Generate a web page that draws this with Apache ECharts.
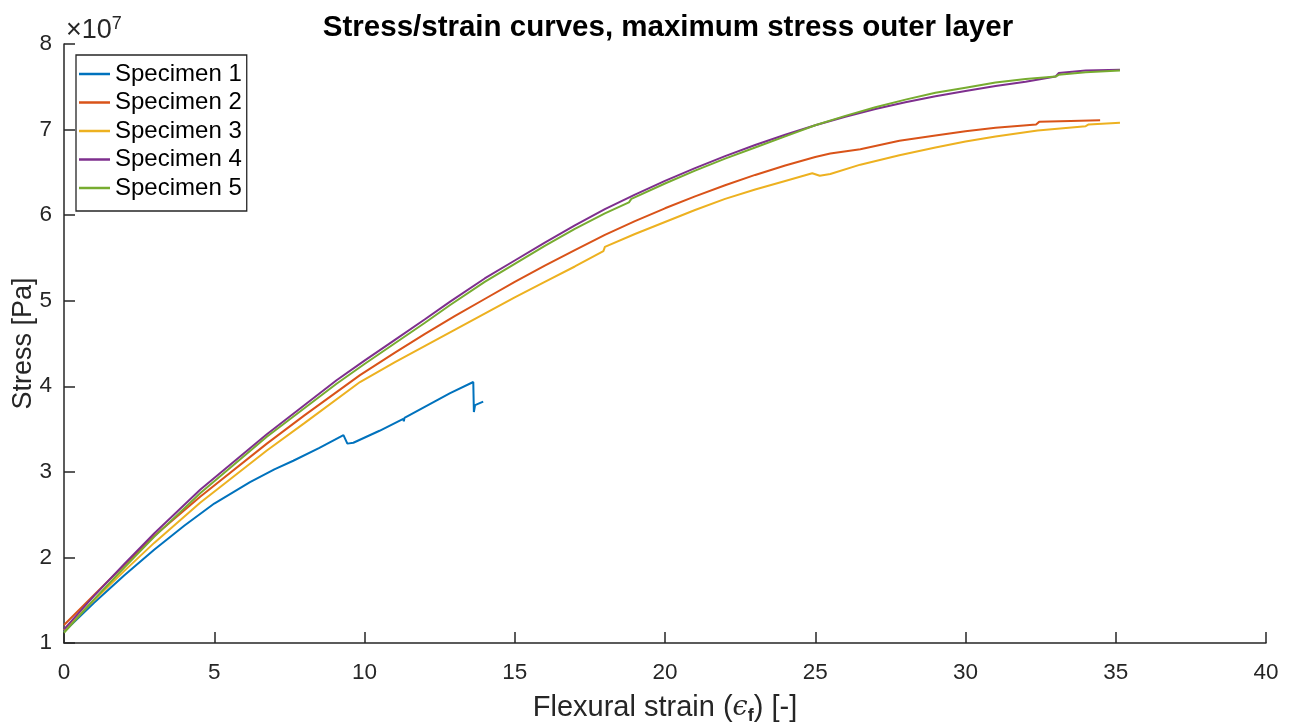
<!DOCTYPE html>
<html>
<head>
<meta charset="utf-8">
<script src="https://cdn.jsdelivr.net/npm/echarts@6/dist/echarts.min.js"></script>
<style>html,body{margin:0;padding:0;background:#fff;}#c{width:1291px;height:725px;}</style>
</head>
<body>
<div id="c"></div>
<script>
// strain values (x) and stress values (y, in units of 1e7 Pa)
const names = ['Specimen 1','Specimen 2','Specimen 3','Specimen 4','Specimen 5'];
const colors = ['#0072BD','#D95319','#EDB120','#7E2F8E','#77AC30'];
const xTicks = [0,5,10,15,20,25,30,35,40];
const yTicks = [1,2,3,4,5,6,7,8];

const s1x = [0,1,2,3,4,5,6.19,7.0,7.63,8.5,9.30,9.36,9.43,9.63,10.5,11.29,11.31,11.33,12.85,13.62,13.64,13.68,13.95];
const s1y = [1.13,1.47,1.79,2.09,2.37,2.63,2.88,3.03,3.13,3.28,3.43,3.42,3.33,3.34,3.48,3.62,3.59,3.63,3.92,4.05,3.70,3.78,3.82];

const s2x = [0,1,2,3,4.53,6.75,8,9.85,11,12,13,14,15,16,17,18,19,20,21,22,23,24,25,25.5,26.5,27.8,29,30,31,32.35,32.45,33.5,34.48];
const s2y = [1.21,1.56,1.91,2.25,2.71,3.33,3.66,4.13,4.39,4.61,4.82,5.02,5.22,5.41,5.59,5.77,5.93,6.08,6.22,6.35,6.47,6.58,6.68,6.72,6.77,6.87,6.93,6.98,7.02,7.06,7.09,7.10,7.11];

const s3x = [0,1,2,3,4.53,6.75,8,9.85,11,12,13,14,15,16,17,17.95,18.0,19,20,21,22,23,24,24.9,25.15,25.5,26.5,27.8,29,30,31,32.4,34.0,34.1,35.14];
const s3y = [1.15,1.50,1.84,2.17,2.64,3.25,3.57,4.05,4.28,4.47,4.66,4.85,5.04,5.22,5.40,5.58,5.63,5.78,5.92,6.06,6.19,6.30,6.40,6.49,6.46,6.48,6.59,6.70,6.79,6.86,6.92,6.99,7.04,7.06,7.08];

const s4x = [0,1,2,3,4.53,6.75,9.07,10,11,12,12.85,14,15,16,17,18,19,20,21,22,23,24,25,26,27,28,29,30,31,32,33,33.1,34,35.14];
const s4y = [1.16,1.55,1.92,2.28,2.79,3.44,4.07,4.30,4.54,4.78,4.99,5.26,5.47,5.68,5.88,6.07,6.24,6.40,6.55,6.69,6.82,6.94,7.05,7.15,7.24,7.32,7.39,7.45,7.51,7.56,7.62,7.66,7.69,7.70];

const s5x = [0,1,2,3,4.53,6.75,9.07,10,11,12,12.85,14,15,16,17,18,18.8,18.88,20,21,22,23,24,25,26,27,28,29,30,31,32,33,33.1,34,35.14];
const s5y = [1.12,1.51,1.88,2.24,2.75,3.41,4.03,4.26,4.50,4.74,4.95,5.22,5.43,5.64,5.84,6.02,6.15,6.19,6.37,6.52,6.66,6.79,6.92,7.05,7.16,7.26,7.35,7.43,7.49,7.55,7.59,7.62,7.64,7.67,7.69];

const xs = [s1x,s2x,s3x,s4x,s5x];
const ys = [s1y,s2y,s3y,s4y,s5y];

const axisColor = '#262626';
const FONT = 'Liberation Sans, Arial, sans-serif';
const chart = echarts.init(document.getElementById('c'));
chart.setOption({
  animation: false,
  backgroundColor: '#fff',
  title: {
    text: 'Stress/strain curves, maximum stress outer layer',
    left: 663, top: 8, textAlign: 'center',
    textStyle: {fontFamily: FONT, fontSize: 29.5, fontWeight: 'bold', color: '#000'}
  },
  graphic: [{
    type: 'text', left: 66, top: 15,
    style: {
      text: '×10{s|7}',
      rich: {s: {fontSize: 18, verticalAlign: 'top', padding: [0,0,13,0], fontFamily: FONT, fill: axisColor}},
      fontSize: 27, fontFamily: FONT, fill: axisColor
    }
  }],
  legend: {
    orient: 'vertical', left: 76, top: 55,
    data: names,
    icon: 'rect', itemWidth: 31, itemHeight: 2.5, itemGap: 0.5,
    padding: [5, 5, 9, 3],
    borderColor: axisColor, borderWidth: 1.3, backgroundColor: '#fff',
    textStyle: {fontFamily: FONT, fontSize: 24, color: '#000', lineHeight: 28}
  },
  grid: {left: 64, right: 25, top: 44, bottom: 82, containLabel: false, outerBoundsMode: 'none'},
  xAxis: {
    type: 'value', min: 0, max: 40, interval: 5,
    name: 'Flexural strain ({e|ϵ}{sub|f}) [-]',
    nameLocation: 'middle', nameGap: 47, nameMoveOverlap: false,
    nameTextStyle: {fontFamily: FONT, fontSize: 29, color: axisColor,
      rich: {e: {fontSize: 27, fontFamily: 'DejaVu Serif, serif', fontStyle: 'italic', color: axisColor},
             sub: {fontSize: 18, fontWeight: 'bold', verticalAlign: 'bottom', padding: [17,0,0,0], color: axisColor}}},
    axisLine: {show: true, lineStyle: {color: axisColor, width: 1.5}},
    axisTick: {show: true, inside: true, length: 11, lineStyle: {color: axisColor, width: 1.5}},
    axisLabel: {fontFamily: FONT, fontSize: 22.5, color: axisColor, margin: 18,
      formatter: v => xTicks.includes(v) ? String(v) : ''},
    splitLine: {show: false}
  },
  yAxis: {
    type: 'value', min: 1, max: 8, interval: 1,
    name: 'Stress [Pa]', nameLocation: 'middle', nameGap: 27, nameMoveOverlap: false,
    nameTextStyle: {fontFamily: FONT, fontSize: 27, color: axisColor},
    axisLine: {show: true, lineStyle: {color: axisColor, width: 1.5}},
    axisTick: {show: true, inside: true, length: 11, lineStyle: {color: axisColor, width: 1.5}},
    axisLabel: {fontFamily: FONT, fontSize: 22.5, color: axisColor, margin: 12,
      formatter: v => yTicks.includes(v) ? String(v) : ''},
    splitLine: {show: false}
  },
  series: names.map((n, i) => ({
    name: n, type: 'line', showSymbol: false, symbol: 'none',
    color: colors[i],
    lineStyle: {color: colors[i], width: 2},
    data: xs[i].map((x, k) => [x, ys[i][k]])
  }))
});
</script>
</body>
</html>
